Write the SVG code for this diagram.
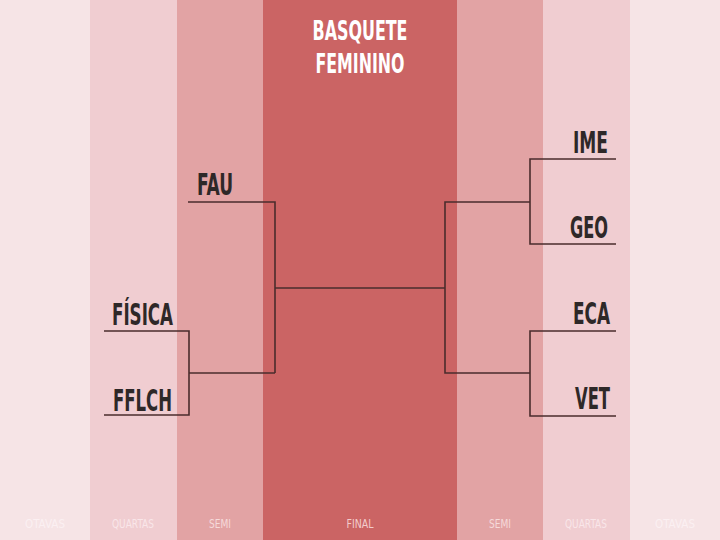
<svg xmlns="http://www.w3.org/2000/svg" width="720" height="540" viewBox="0 0 720 540">
<style>
.team{font-family:"Liberation Sans Narrow","DejaVu Sans Condensed","Liberation Sans",sans-serif;font-weight:bold;font-size:31px;fill:#2e2828}
.title{font-family:"Liberation Sans Narrow","DejaVu Sans Condensed","Liberation Sans",sans-serif;font-weight:bold;font-size:26px;fill:#ffffff;text-anchor:middle}
.col{font-family:"Liberation Sans Narrow","DejaVu Sans Condensed","Liberation Sans",sans-serif;font-size:13px;text-anchor:middle}
.ln{stroke:#4a2c2c;stroke-width:1.6;fill:none}
</style>
<g id="background">
<rect x="0" y="0" width="90" height="540" fill="#f6e4e6"/>
<rect x="90" y="0" width="87" height="540" fill="#f0cdd1"/>
<rect x="177" y="0" width="86" height="540" fill="#e2a3a4"/>
<rect x="263" y="0" width="194" height="540" fill="#cb6464"/>
<rect x="457" y="0" width="86" height="540" fill="#e2a3a4"/>
<rect x="543" y="0" width="87" height="540" fill="#f0cdd1"/>
<rect x="630" y="0" width="90" height="540" fill="#f6e4e6"/>
</g>
<g id="title">
<text class="title" x="360" y="40" textLength="95" lengthAdjust="spacingAndGlyphs">BASQUETE</text>
<text class="title" x="360" y="73" textLength="89" lengthAdjust="spacingAndGlyphs">FEMININO</text>
</g>
<g id="round-labels">
<text class="col" x="45" y="528" fill="#fbf0f2" textLength="40" lengthAdjust="spacingAndGlyphs">OTAVAS</text>
<text class="col" x="133" y="528" fill="#f9e6e9" textLength="42" lengthAdjust="spacingAndGlyphs">QUARTAS</text>
<text class="col" x="220" y="528" fill="#f6dada" textLength="22" lengthAdjust="spacingAndGlyphs">SEMI</text>
<text class="col" x="360" y="528" fill="#f3cccc" textLength="27" lengthAdjust="spacingAndGlyphs">FINAL</text>
<text class="col" x="500" y="528" fill="#f6dada" textLength="22" lengthAdjust="spacingAndGlyphs">SEMI</text>
<text class="col" x="586" y="528" fill="#f9e6e9" textLength="42" lengthAdjust="spacingAndGlyphs">QUARTAS</text>
<text class="col" x="675" y="528" fill="#fbf0f2" textLength="40" lengthAdjust="spacingAndGlyphs">OTAVAS</text>
</g>
<g id="team-fau"><text class="team" x="197" y="195" textLength="36" lengthAdjust="spacingAndGlyphs">FAU</text></g>
<g id="team-fisica"><text class="team" x="112" y="325" textLength="61" lengthAdjust="spacingAndGlyphs">FÍSICA</text></g>
<g id="team-fflch"><text class="team" x="113" y="411" textLength="59" lengthAdjust="spacingAndGlyphs">FFLCH</text></g>
<g id="team-ime"><text class="team" x="573" y="153" textLength="35" lengthAdjust="spacingAndGlyphs">IME</text></g>
<g id="team-geo"><text class="team" x="570" y="238" textLength="38" lengthAdjust="spacingAndGlyphs">GEO</text></g>
<g id="team-eca"><text class="team" x="573" y="324" textLength="37" lengthAdjust="spacingAndGlyphs">ECA</text></g>
<g id="team-vet"><text class="team" x="575" y="409" textLength="35" lengthAdjust="spacingAndGlyphs">VET</text></g>
<g id="connectors">
<path class="ln" d="M188 202 H275 V373"/>
<path class="ln" d="M104 331 H189 V415 H104"/>
<path class="ln" d="M189 373 H275"/>
<path class="ln" d="M275 288 H445"/>
<path class="ln" d="M616 159 H530 V244 H616"/>
<path class="ln" d="M616 331 H530 V416 H616"/>
<path class="ln" d="M530 202 H445 V373 H530"/>
</g>
</svg>
